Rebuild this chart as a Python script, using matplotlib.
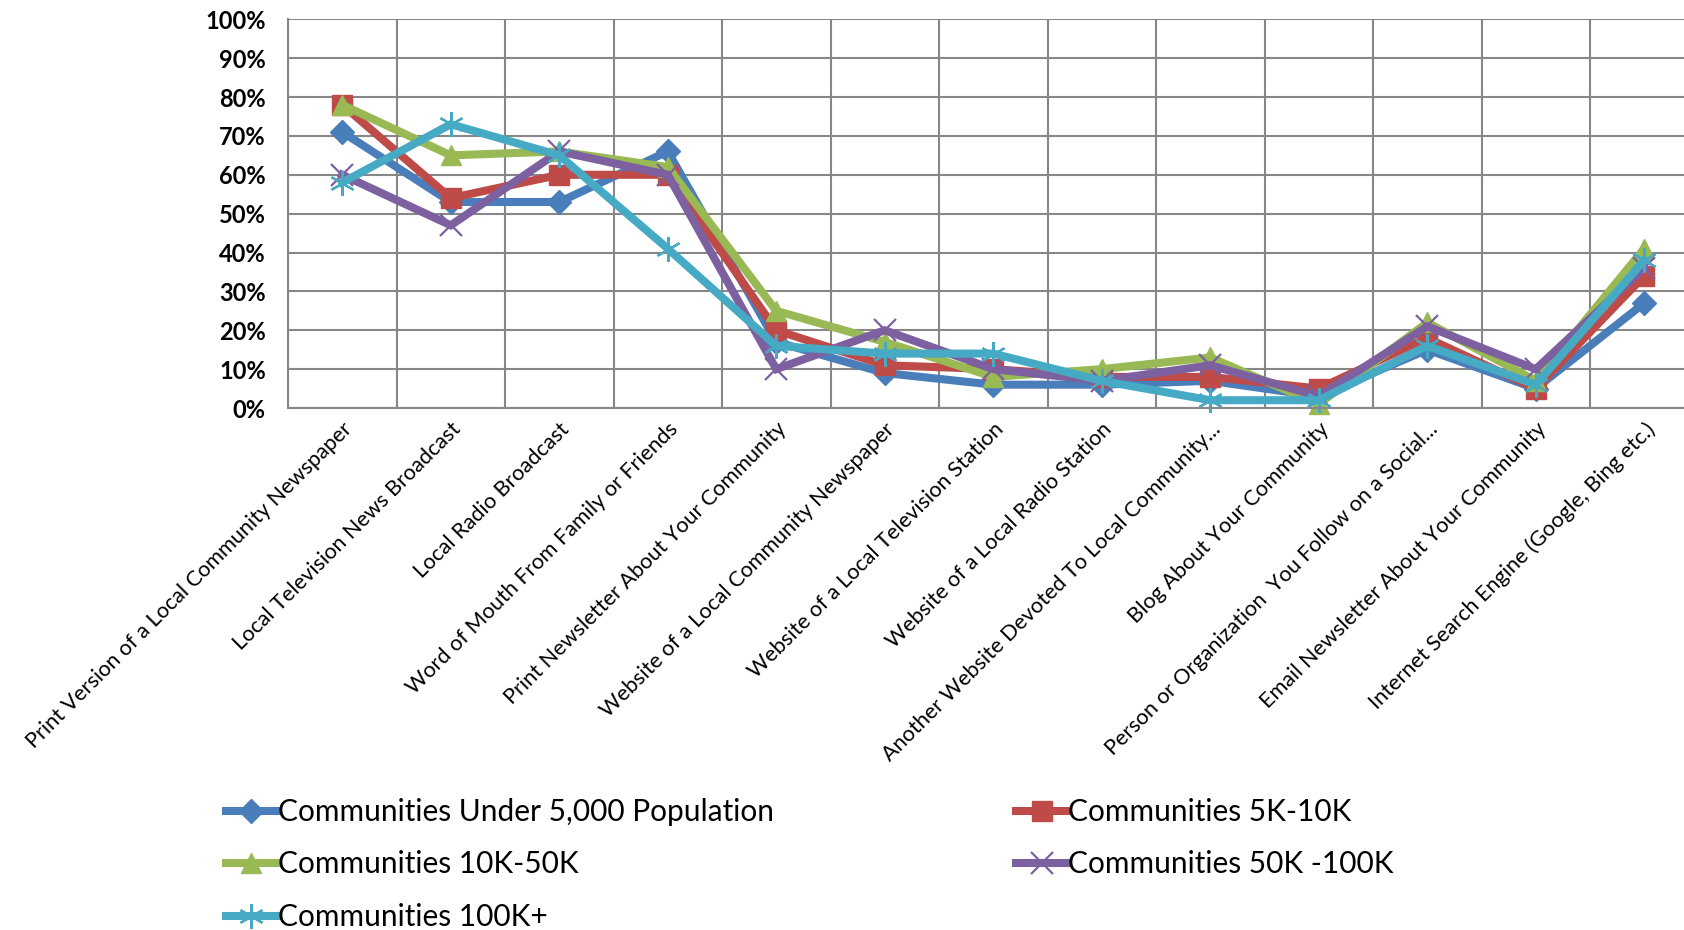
import matplotlib.pyplot as plt
import numpy as np

categories = [
    "Print Version of a Local Community Newspaper",
    "Local Television News Broadcast",
    "Local Radio Broadcast",
    "Word of Mouth From Family or Friends",
    "Print Newsletter About Your Community",
    "Website of a Local Community Newspaper",
    "Website of a Local Television Station",
    "Website of a Local Radio Station",
    "Another Website Devoted To Local Community...",
    "Blog About Your Community",
    "Person or Organization  You Follow on a Social...",
    "Email Newsletter About Your Community",
    "Internet Search Engine (Google, Bing etc.)",
]

series_names = [
    "Communities Under 5,000 Population",
    "Communities 5K-10K",
    "Communities 10K-50K",
    "Communities 50K -100K",
    "Communities 100K+",
]

under_5k = [71, 53, 53, 66, 17, 9, 6, 6, 7, 3, 15, 5, 27]
k5_10 = [78, 54, 60, 60, 20, 11, 10, 8, 8, 5, 18, 5, 34]
k10_50 = [78, 65, 66, 62, 25, 17, 8, 10, 13, 1, 22, 7, 41]
k50_100 = [60, 47, 66, 60, 10, 20, 10, 7, 11, 3, 21, 10, 36]
k100_plus = [58, 73, 65, 41, 16, 14, 14, 7, 2, 2, 16, 6, 38]

colors = ['#4A7EBB', '#BE4B48', '#98B954', '#7D60A0', '#46AAC5']
markers = ['D', 's', '^', 'x', (6, 2, 0)]
msizes = [12, 15, 15, 16, 18]

plt.rcParams['font.family'] = ['Lato', 'DejaVu Sans']

fig = plt.figure(figsize=(16.84, 9.30), dpi=100)
ax = fig.add_axes([288 / 1684, 1 - 408 / 930, 13 * 108.5 / 1684, (408 - 19.3) / 930])

x = np.arange(len(categories))
all_series = [under_5k, k5_10, k10_50, k50_100, k100_plus]
handles = []
for vals, name, c, m, ms in zip(all_series, series_names, colors, markers, msizes):
    hollow = m in ('x',) or isinstance(m, tuple)
    h, = ax.plot(x, np.array(vals) / 100, color=c, lw=5.8, marker=m, markersize=ms,
                 markerfacecolor=c, markeredgecolor=c,
                 markeredgewidth=1.6 if hollow else 1, label=name,
                 solid_joinstyle='miter', clip_on=False)
    handles.append(h)

ax.set_xlim(-0.5, len(categories) - 0.5)
ax.set_ylim(0, 1)
ax.set_yticks(np.arange(0, 1.01, 0.1))
ax.set_yticklabels([f"{int(round(v * 100))}%" for v in np.arange(0, 1.01, 0.1)],
                   fontsize=17, fontweight='bold')
ax.set_xticks(x)
ax.set_xticklabels(categories, rotation=45, ha='right', rotation_mode='anchor', fontsize=15.6)
ax.set_xticks(np.arange(-0.5, len(categories), 1), minor=True)
ax.grid(True, which='minor', axis='x', color='#878787', lw=1.5)
ax.grid(True, which='major', axis='y', color='#878787', lw=1.5)
ax.set_axisbelow(True)
ax.tick_params(axis='both', which='both', length=0)
ax.tick_params(axis='x', pad=8)
ax.tick_params(axis='y', pad=16)
for s in ['top', 'right']:
    ax.spines[s].set_visible(False)
for s in ['left', 'bottom']:
    ax.spines[s].set_color('#878787')
    ax.spines[s].set_linewidth(1.5)

order = [0, 2, 4, 1, 3]
fig.legend([handles[i] for i in order], [series_names[i] for i in order],
           ncol=2, loc='upper left', bbox_to_anchor=(226 / 1684, 1 - 798 / 930),
           frameon=False, fontsize=21.5, handlelength=1.7, handletextpad=0.05,
           columnspacing=8.1, labelspacing=0.82, borderaxespad=0, borderpad=0)

fig.savefig('out.png', dpi=100)
